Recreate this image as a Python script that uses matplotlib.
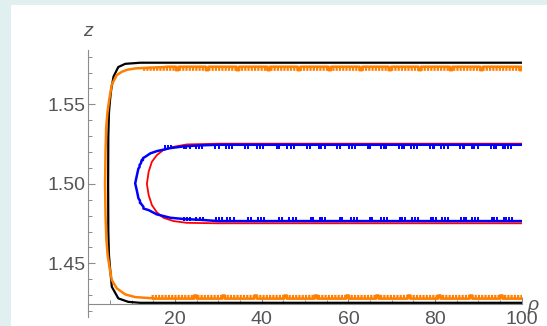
import numpy as np
import matplotlib
matplotlib.use('Agg')
import matplotlib.pyplot as plt
from matplotlib.patches import Rectangle

plt.rcParams['font.family'] = ['Liberation Sans', 'DejaVu Sans']
plt.rcParams['lines.scale_dashes'] = False

# ---------------- data ----------------
# black curve: top-right -> left edge -> bottom-right
black_rho = [100, 12, 8.5, 6.9, 5.8, 5.25, 5.0, 4.75, 4.6, 4.55, 4.6, 4.75, 5.0, 5.4, 6.9, 9.2, 12, 100]
black_z = [1.5762, 1.5762, 1.5755, 1.5735, 1.5675, 1.559, 1.553, 1.545, 1.53, 1.5,
           1.47, 1.455, 1.447, 1.4353, 1.428, 1.4258, 1.4252, 1.4252]

# orange curve: rounded left part, then flat noisy branches
orange_left_rho = [18, 14, 10.8, 9.0, 7.7, 6.55, 5.4, 4.8, 4.4, 4.1, 3.95, 3.85,
                   3.95, 4.15, 4.45, 4.9, 5.4, 6.55, 8.5, 10.8, 15]
orange_left_z = [1.5735, 1.5731, 1.5726, 1.5718, 1.5705, 1.5684, 1.5625, 1.553, 1.545, 1.535, 1.52, 1.5,
                 1.48, 1.465, 1.455, 1.447, 1.4395, 1.4343, 1.4305, 1.4288, 1.4280]
orange_top_z = 1.5737
orange_top_dip_z = 1.5715
orange_top_dips = [20.5, 27.4, 34.5, 41.6, 48.6, 55.7, 62.9, 69.6, 76.5, 83.7, 90.7, 99.8]
orange_bot_z = 1.4278
orange_bot_bump_z = 1.4298
orange_bot_bumps = [24.7, 31.2, 38.6, 45.5, 52.5, 59.8, 66.7, 74.0, 81.0, 88.3, 95.3]

# red curve
red_rho = [100, 30, 22.7, 19.65, 17.3, 15.8, 14.65, 13.9, 13.5, 13.9, 14.65, 15.8, 17.3, 19.65, 22.7, 30, 100]
red_z = [1.5253, 1.5253, 1.5248, 1.5233, 1.5213, 1.5181, 1.5139, 1.5076, 1.5,
         1.4930, 1.4867, 1.4821, 1.4787, 1.4766, 1.4755, 1.4752, 1.4752]

# blue curve
blue_rho = [100, 30, 25.8, 22.0, 18.9, 15.8, 14.3, 13.1, 12.6, 12.6, 12.3, 12.1, 11.8, 11.8, 11.55, 11.2, 10.8,
            11.2, 11.55, 11.9, 11.9, 12.1, 12.7, 12.7, 13.9, 15.8, 18.9, 22.0, 25.8, 30, 100]
blue_z = [1.5246, 1.5246, 1.5242, 1.5236, 1.5225, 1.5206, 1.5192, 1.5170, 1.5162, 1.5150, 1.5150, 1.5129, 1.5118,
          1.5105, 1.5097, 1.5055, 1.5003,
          1.4955, 1.4909, 1.4895, 1.4880, 1.4877, 1.4856, 1.4845, 1.4835, 1.4808, 1.4787, 1.4779, 1.4774, 1.4766, 1.4766]
blue_top_teeth = [17.6, 18.3, 19.1, 21.97, 22.59, 23.36, 24.91, 25.44, 26.23, 29.31, 30.07, 31.85, 32.38, 33.17,
                  36.25, 36.88, 38.80, 39.56, 40.35, 43.43, 43.96, 45.90, 46.67, 47.45, 50.53, 51.13,
                  53.22, 53.77, 54.54, 57.48, 58.08, 60.16, 60.95, 61.55, 64.42, 65.02, 67.50, 68.12,
                  68.73, 71.74, 72.29, 72.89, 74.44, 75.21, 75.83, 78.91, 79.47, 79.84, 81.39, 82.01,
                  82.94, 85.86, 86.41, 86.78, 88.50, 89.10, 89.88, 92.96, 93.59, 94.12, 95.67, 96.20,
                  96.83, 97.59]
blue_bot_teeth = [22.0, 22.8, 23.5, 24.9, 25.7, 26.4, 29.4, 30.2, 30.9, 32.0, 32.7, 33.5,
                  36.9, 37.5, 39.1, 39.9, 40.6, 44.0, 44.7, 46.4, 47.2, 47.9, 51.3, 51.9, 53.4, 53.9, 54.5,
                  58.0, 58.6, 60.5, 61.3, 62.0, 64.9, 65.5, 67.6, 68.2, 68.8, 71.8, 72.4, 73.0, 74.6, 75.4,
                  76.0, 79.0, 79.6, 80.2, 81.6, 82.2, 83.1, 86.0, 86.6, 87.1, 88.6, 89.3, 90.0, 93.1, 93.7,
                  94.3, 95.8, 96.4, 97.0, 97.7]
blue_tooth_depth = 0.0027

xticks_major = [20, 40, 60, 80, 100]
yticks_major = [1.45, 1.50, 1.55]
ytick_labels = ['1.45', '1.50', '1.55']

# ---------------- helpers ----------------
def step_branch(x_from, x_to, level, alt, events, hw):
    """Horizontal branch from x_from to x_to with rectangular excursions."""
    xs, zs = [x_from], [level]
    evs = sorted(events, reverse=(x_from > x_to))
    for e in evs:
        if x_from > x_to:
            a, b = min(e + hw, x_from), e - hw
        else:
            a, b = e - hw, min(e + hw, x_to)
        xs += [a, a, b, b]
        zs += [level, alt, alt, level]
    xs.append(x_to)
    zs.append(level)
    return xs, zs

# ---------------- figure ----------------
W, H = 547, 326
fig = plt.figure(figsize=(W / 100, H / 100), dpi=100)
fig.patch.set_facecolor('#e0efef')
fig.add_artist(Rectangle((11 / W, 0), 1, (H - 5) / H, transform=fig.transFigure,
                         facecolor='white', edgecolor='none', zorder=0))

ax_left, ax_right = 88.4, 521.7
ylo, yhi = 1.4165, 1.5842
px_per_z = 1590
top_px = 50
bot_px = top_px + (yhi - ylo) * px_per_z
ax = fig.add_axes([ax_left / W, (H - bot_px) / H, (ax_right - ax_left) / W, (bot_px - top_px) / H])
ax.set_facecolor('none')
ax.set_xlim(0, 100)
ax.set_ylim(ylo, yhi)

# black
ax.plot(black_rho, black_z, color='black', lw=1.6, zorder=2, solid_joinstyle='round')

# orange
tx, tz = step_branch(100, 18, orange_top_z, orange_top_dip_z, orange_top_dips, 0.3)
bx, bz = step_branch(15, 100, orange_bot_z, orange_bot_bump_z, orange_bot_bumps, 0.3)
ox = tx + orange_left_rho + bx
oz = tz + orange_left_z + bz
orange = '#ff8000'
ax.plot(ox, oz, color=orange, lw=1.8, zorder=3)
# comb-like sampling noise on the flat branches
ax.plot([12.5, 100], [orange_top_z - 0.0017, orange_top_z - 0.0017], color=orange, lw=2.6,
        dashes=(1.6, 0.75), zorder=3)
ax.plot([14.5, 100], [orange_bot_z + 0.0016, orange_bot_z + 0.0016], color=orange, lw=2.3,
        dashes=(1.6, 0.75), zorder=3)

# red
ax.plot(red_rho, red_z, color='#ff0000', lw=1.3, zorder=4)

# blue
ax.plot(blue_rho, blue_z, color='#0000ff', lw=1.8, zorder=5)
ax.vlines(blue_top_teeth, blue_z[0] - blue_tooth_depth, blue_z[0], color='#0000ff', lw=1.4, zorder=5)
ax.vlines(blue_bot_teeth, blue_z[-1], blue_z[-1] + blue_tooth_depth, color='#0000ff', lw=1.4, zorder=5)

# axes styling (Mathematica-like)
axis_col = '#8c8c8c'
for s in ['top', 'right']:
    ax.spines[s].set_visible(False)
ax.spines['left'].set_color(axis_col)
ax.spines['bottom'].set_color(axis_col)
ax.spines['left'].set_linewidth(0.8)
ax.spines['bottom'].set_linewidth(0.8)
ax.spines['bottom'].set_position(('data', 1.4246))
ax.spines['left'].set_zorder(1)
ax.spines['bottom'].set_zorder(1)

ax.set_xticks(xticks_major)
ax.set_xticks(np.arange(5, 100, 5), minor=True)
ax.set_yticks(yticks_major)
ax.set_yticklabels(ytick_labels)
ax.set_yticks(np.arange(1.42, 1.585, 0.01), minor=True)

lab_col = '#555555'
ax.tick_params(axis='both', which='major', direction='in', length=5, width=0.8, color=axis_col,
               labelcolor=lab_col, labelsize=14)
ax.tick_params(axis='both', which='minor', direction='in', length=2.8, width=0.7, color=axis_col)
ax.tick_params(axis='x', which='major', pad=5.5)
ax.tick_params(axis='y', which='major', pad=2)

fig.text(88 / W, (H - 32) / H, 'z', fontsize=14, style='italic', color=lab_col, ha='center', va='center')
fig.text(533 / W, (H - 305) / H, 'ρ', fontsize=14, style='italic', color=lab_col, ha='center', va='center')

fig.savefig('out.png', dpi=100)
